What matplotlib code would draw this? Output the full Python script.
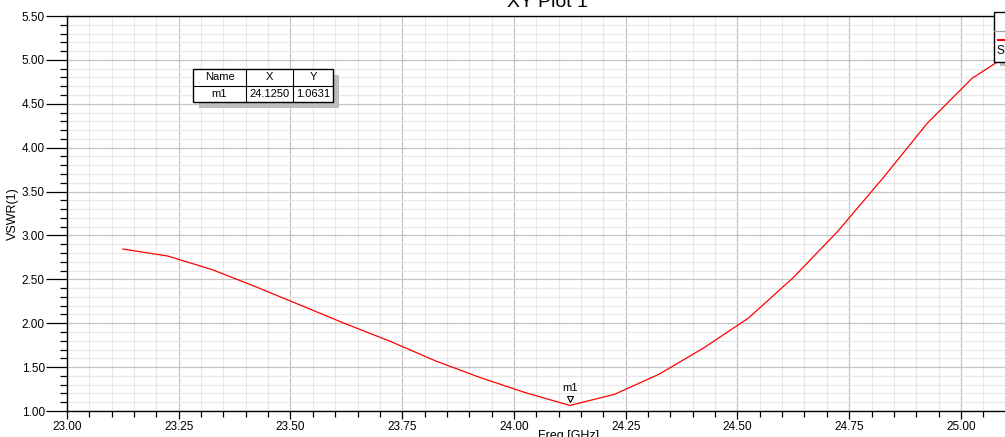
import numpy as np
import matplotlib.pyplot as plt
from matplotlib.patches import Rectangle
from matplotlib.ticker import MultipleLocator, FormatStrFormatter

plt.rcParams['font.family'] = ['Liberation Sans', 'DejaVu Sans']

# VSWR(1) vs frequency
freq = [23.125, 23.225, 23.325, 23.425, 23.525, 23.625, 23.725, 23.825, 23.925,
        24.025, 24.125, 24.225, 24.325, 24.425, 24.525, 24.625, 24.725, 24.825,
        24.925, 25.025, 25.125]
vswr = [2.845, 2.766, 2.61, 2.41, 2.20, 1.99, 1.79, 1.57, 1.38,
        1.21, 1.0631, 1.19, 1.42, 1.72, 2.06, 2.52, 3.05, 3.65,
        4.28, 4.79, 5.12]

marker_name = 'm1'
marker_x = 24.125
marker_y = 1.0631

W, H = 1005, 437
fig = plt.figure(figsize=(10.05, 4.37), dpi=100)
ax = fig.add_axes([67 / W, 26 / H, 950 / W, 395 / H])

ax.plot(freq, vswr, color='red', lw=0.9)
ax.plot([marker_x], [marker_y + 0.07], marker='v', ms=5, mfc='white', mec='black', mew=0.8)
ax.text(marker_x, marker_y + 0.14, marker_name, ha='center', va='bottom', fontsize=8)

ax.set_xlim(23.0, 25.1255)
ax.set_ylim(1.0, 5.5)
ax.xaxis.set_major_locator(MultipleLocator(0.25))
ax.xaxis.set_minor_locator(MultipleLocator(0.05))
ax.yaxis.set_major_locator(MultipleLocator(0.5))
ax.yaxis.set_minor_locator(MultipleLocator(0.1))
ax.xaxis.set_major_formatter(FormatStrFormatter('%.2f'))
ax.yaxis.set_major_formatter(FormatStrFormatter('%.2f'))
ax.grid(which='major', color='#c4c4c4', lw=0.9)
ax.grid(which='minor', color='#e8e8e8', lw=0.9)
ax.set_axisbelow(True)
ax.tick_params(which='major', direction='out', length=6, width=0.9, labelsize=8.5, pad=1)
ax.tick_params(axis='y', which='major', length=15)
ax.tick_params(which='minor', direction='out', length=5, width=0.9)
ax.tick_params(axis='x', which='minor', length=4)
ax.spines['right'].set_visible(False)
for s in ['left', 'bottom', 'top']:
    ax.spines[s].set_linewidth(1.0)

ax.set_xlabel('Freq [GHz]', fontsize=9)
ax.xaxis.set_label_coords((569 - 67) / 950, -19 / 395)
ax.set_ylabel('VSWR(1)', fontsize=9, labelpad=2)
fig.text(547 / W, 1 - 7 / H, 'XY Plot 1', ha='center', va='baseline', fontsize=14)

# marker table
cols = [193, 246, 293, 333]
rows = [69, 86, 102]
header = ['Name', 'X', 'Y']
values = [marker_name, '%.4f' % marker_x, '%.4f' % marker_y]
fig.patches.append(Rectangle(((cols[0] + 6) / W, 1 - (rows[2] + 6) / H),
                             (cols[-1] - cols[0]) / W, (rows[2] - rows[0]) / H,
                             transform=fig.transFigure, facecolor='#bdbdbd',
                             edgecolor='none', zorder=5))
fig.patches.append(Rectangle((cols[0] / W, 1 - rows[2] / H),
                             (cols[-1] - cols[0]) / W, (rows[2] - rows[0]) / H,
                             transform=fig.transFigure, facecolor='white',
                             edgecolor='black', lw=1, zorder=6))
fig.lines.append(plt.Line2D([cols[0] / W, cols[-1] / W], [1 - rows[1] / H] * 2,
                            transform=fig.transFigure, color='black', lw=0.8, zorder=7))
for c in cols[1:-1]:
    fig.lines.append(plt.Line2D([c / W] * 2, [1 - rows[0] / H, 1 - rows[2] / H],
                                transform=fig.transFigure, color='black', lw=0.8, zorder=7))
for i in range(3):
    cx = (cols[i] + cols[i + 1]) / 2 / W
    fig.text(cx, 1 - (rows[0] + rows[1]) / 2 / H, header[i], ha='center', va='center',
             fontsize=8, zorder=8)
    fig.text(cx, 1 - (rows[1] + rows[2]) / 2 / H, values[i], ha='center', va='center',
             fontsize=8, zorder=8)

# legend box, cut by the right edge
fig.patches.append(Rectangle((1000 / W, 1 - 66 / H), 20 / W, 50 / H,
                             transform=fig.transFigure, facecolor='#bdbdbd',
                             edgecolor='none', zorder=5))
fig.patches.append(Rectangle((994 / W, 1 - 62 / H), 20 / W, 50 / H,
                             transform=fig.transFigure, facecolor='white',
                             edgecolor='black', lw=1, zorder=6))
fig.lines.append(plt.Line2D([994 / W, 1.0], [1 - 31 / H] * 2,
                            transform=fig.transFigure, color='#a0a0a0', lw=0.8, zorder=7))
fig.lines.append(plt.Line2D([998 / W, 1.0], [1 - 40 / H] * 2,
                            transform=fig.transFigure, color='red', lw=1.5, zorder=7))
fig.text(996 / W, 1 - 51 / H, 'S', ha='left', va='center', fontsize=8.5, zorder=8)

fig.savefig('out.png', dpi=100)
